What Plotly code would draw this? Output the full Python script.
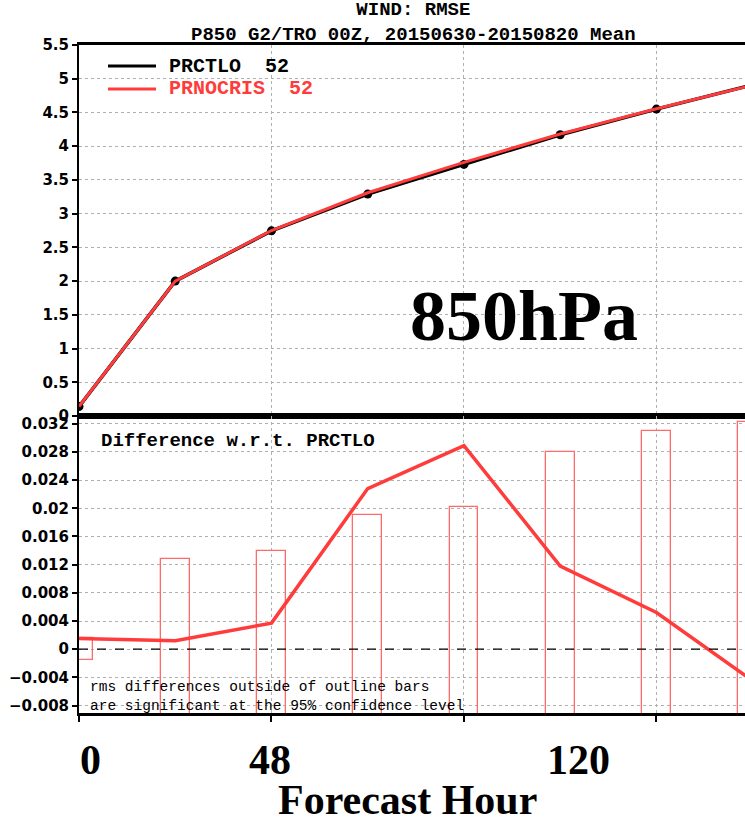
import plotly.graph_objects as go

# ---------------- data ----------------
hours = [0, 24, 48, 72, 96, 120, 144, 168]
prctlo = [0.14, 2.00, 2.745, 3.29, 3.73, 4.17, 4.55, 4.91]
prnocris = [0.14, 2.00, 2.75, 3.31, 3.76, 4.18, 4.555, 4.905]
diff = [0.0015, 0.0012, 0.0037, 0.0228, 0.0289, 0.0118, 0.0052, -0.0045]
ci95 = [0.0016, 0.0128, 0.0140, 0.0191, 0.0202, 0.0280, 0.0310, 0.0323]

series_names = ["PRCTLO\u00a0\u00a052", "PRNOCRIS\u00a0\u00a052"]
title_lines = ["WIND: RMSE", "P850 G2/TRO 00Z, 20150630-20150820 Mean"]
big_xlabels = ["0", "48", "120"]
big_xlabel_pos = [90, 270, 578]  # pixel centres of overlaid labels
note_lines = ["rms differences outside of outline bars",
              "are significant at the 95% confidence level"]

# ---------------- geometry ----------------
W, H = 745, 822
ML, MR, MT, MB = 79, 0, 45, 109
PW, PH = W - ML - MR, H - MT - MB
split = (713 - 416) / PH  # lower panel fraction


def px(xp):
    return (xp - ML) / PW


def py(yp):
    return (H - MB - yp) / PH


RED = "#ff3b3b"
BARRED = "#ff6a6a"
GRID = "#b0b0b0"
MONO = "Liberation Mono"
SERIF = "Liberation Serif"

fig = go.Figure()

# upper panel
fig.add_trace(go.Scatter(x=hours, y=prctlo, mode="lines+markers",
                         line=dict(color="black", width=3.5),
                         marker=dict(color="black", size=9),
                         xaxis="x", yaxis="y", showlegend=False))
fig.add_trace(go.Scatter(x=hours, y=prnocris, mode="lines",
                         line=dict(color=RED, width=3),
                         xaxis="x", yaxis="y", showlegend=False))

# lower panel: significance bars (symmetric about zero)
fig.add_trace(go.Bar(x=hours, y=[2 * c for c in ci95], base=[-c for c in ci95],
                     width=7.2, marker=dict(color="rgba(0,0,0,0)",
                                            line=dict(color=BARRED, width=1.3)),
                     xaxis="x2", yaxis="y2", showlegend=False))
fig.add_trace(go.Scatter(x=hours, y=diff, mode="lines",
                         line=dict(color=RED, width=3.5),
                         xaxis="x2", yaxis="y2", showlegend=False))

xmax = PW / 4.01

grid = dict(showgrid=True, gridcolor=GRID, griddash="dot", gridwidth=1,
            zeroline=False, automargin=False)
tickfont = dict(family="DejaVu Sans", size=15, color="black", weight="bold")

fig.update_layout(
    width=W, height=H,
    margin=dict(l=ML, r=MR, t=MT, b=MB, autoexpand=False),
    paper_bgcolor="white", plot_bgcolor="white",
    showlegend=False,
    xaxis=dict(domain=[0, 1], range=[0, xmax], anchor="y", tick0=0, dtick=48,
               showticklabels=False, ticks="", mirror=True, linewidth=2.5,
               showline=True, linecolor="black", **grid),
    yaxis=dict(domain=[split, 1], range=[0, 5.5], anchor="x", dtick=0.5, tick0=0,
               ticks="outside", ticklen=5, tickwidth=1.5, tickcolor="black",
               showline=True, linecolor="black", linewidth=2,
               tickfont=tickfont, **grid),
    xaxis2=dict(domain=[0, 1], range=[0, xmax], anchor="y2", tick0=0, dtick=48,
                showticklabels=False, ticks="outside", ticklen=6, tickwidth=1.5,
                tickcolor="black", mirror=True, linewidth=2.5,
                showline=True, linecolor="black", **grid),
    yaxis2=dict(domain=[0, split], range=[-0.00906, 0.0331], anchor="x2",
                dtick=0.004, tick0=0, ticks="outside", ticklen=5, tickwidth=1.5,
                tickcolor="black", showline=True, linecolor="black", linewidth=2,
                tickfont=tickfont, **grid),
    bargap=0,
)

# zero reference line in lower panel
fig.add_shape(type="line", xref="x2 domain", x0=0, x1=1, yref="y2", y0=0, y1=0,
              line=dict(color="black", width=1.2, dash="dash"))

# legend (custom)
leg_colors = ["black", RED]
leg_y = [66, 89]
for name, col, yy in zip(series_names, leg_colors, leg_y):
    fig.add_shape(type="line", xref="paper", yref="paper",
                  x0=px(108), x1=px(156), y0=py(yy), y1=py(yy),
                  line=dict(color=col, width=3))
    fig.add_annotation(xref="paper", yref="paper", x=px(167), y=py(yy),
                       xanchor="left", yanchor="middle", showarrow=False,
                       text=name, font=dict(family=MONO, size=20, color=col, weight="bold"))

# titles (two lines in one block)
fig.add_annotation(xref="paper", yref="paper", x=px(413), y=py(23),
                   xanchor="center", yanchor="middle", showarrow=False,
                   text="<br>".join(title_lines),
                   font=dict(family=MONO, size=19, color="black", weight="bold"))

# level label
fig.add_annotation(xref="paper", yref="paper", x=px(524), y=py(316),
                   xanchor="center", yanchor="middle", showarrow=False,
                   text="850hPa", font=dict(family=SERIF, size=72, color="black", weight="bold"))

# lower panel label
fig.add_annotation(xref="paper", yref="paper", x=px(99), y=py(441),
                   xanchor="left", yanchor="middle", showarrow=False,
                   text="Difference w.r.t. PRCTLO",
                   font=dict(family=MONO, size=19, color="black", weight="bold"))

# significance note
fig.add_annotation(xref="paper", yref="paper", x=px(88), y=py(696),
                   xanchor="left", yanchor="middle", showarrow=False, align="left",
                   text="<br>".join(note_lines),
                   font=dict(family=MONO, size=14.5, color="black"))

# big overlaid x labels
for txt, xx in zip(big_xlabels, big_xlabel_pos):
    fig.add_annotation(xref="paper", yref="paper", x=px(xx), y=py(760),
                       xanchor="center", yanchor="middle", showarrow=False,
                       text=txt, font=dict(family=SERIF, size=42, color="black", weight="bold"))

fig.add_annotation(xref="paper", yref="paper", x=px(407), y=py(800),
                   xanchor="center", yanchor="middle", showarrow=False,
                   text="Forecast Hour",
                   font=dict(family=SERIF, size=42, color="black", weight="bold"))

fig.write_html("out.html", config={"displayModeBar": False},
               post_script="document.body.style.margin='0';document.body.style.overflow='hidden';")
